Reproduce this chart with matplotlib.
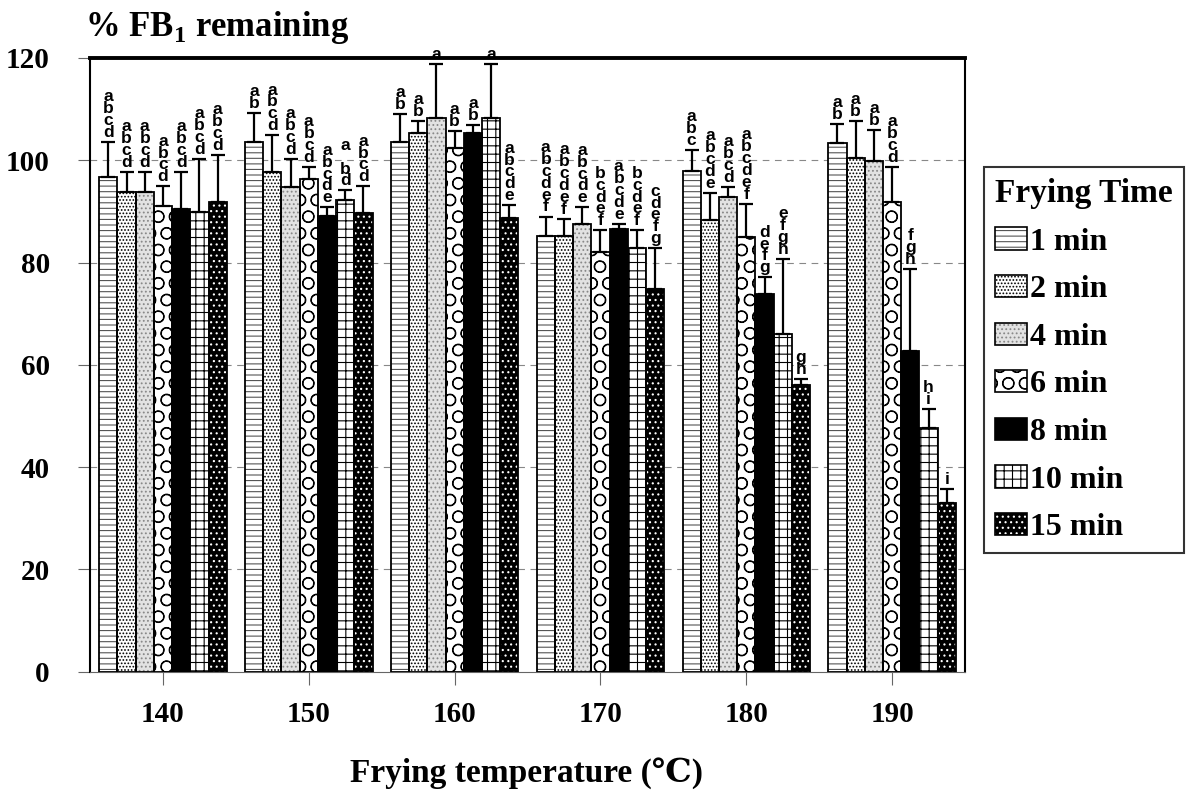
import matplotlib
matplotlib.use("Agg")
import matplotlib.pyplot as plt
from matplotlib.patches import Patch
import numpy as np

plt.rcParams['font.family'] = ['Liberation Serif', 'DejaVu Serif']
plt.rcParams['font.weight'] = 'bold'
plt.rcParams['mathtext.fontset'] = 'custom'
plt.rcParams['mathtext.rm'] = 'Liberation Serif:bold'
plt.rcParams['mathtext.bf'] = 'Liberation Serif:bold'
plt.rcParams['hatch.linewidth'] = 0.8

# data
temps = ['140', '150', '160', '170', '180', '190']
times = ['1 min', '2 min', '4 min', '6 min', '8 min', '10 min', '15 min']

# rows = temperature, cols = frying time
means = [
    [96.8, 93.8, 93.8, 91.0, 90.4, 89.8, 91.9],
    [103.5, 97.8, 94.7, 96.4, 89.1, 92.3, 89.6],
    [103.5, 105.4, 108.2, 102.4, 105.4, 108.2, 88.7],
    [85.1, 85.1, 87.5, 82.0, 86.5, 82.8, 74.8],
    [98.0, 88.4, 92.8, 85.0, 73.9, 66.1, 56.1],
    [103.3, 100.5, 99.8, 91.8, 62.7, 47.6, 32.9],
]
errs = [
    [6.8, 3.9, 3.9, 3.9, 7.3, 10.5, 9.1],
    [5.7, 7.1, 5.6, 2.3, 1.7, 1.8, 5.3],
    [5.5, 2.2, 10.6, 3.3, 1.5, 10.6, 2.5],
    [3.9, 3.5, 3.3, 4.3, 1.1, 3.5, 8.0],
    [4.0, 5.2, 2.0, 6.5, 3.2, 14.6, 1.1],
    [3.8, 7.2, 6.2, 6.9, 16.0, 3.7, 2.8],
]
letters = [
    ['abcd', 'abcd', 'abcd', 'abcd', 'abcd', 'abcd', 'abcd'],
    ['ab', 'abcd', 'abcd', 'abcd', 'abcde', 'a bd', 'abcd'],
    ['ab', 'ab', 'a', 'ab', 'ab', 'a', 'abcde'],
    ['abcdef', 'abcdef', 'abcde', 'bcdef', 'abcde', 'bcdef', 'cdefg'],
    ['abc', 'abcde', 'abcd', 'abcdef', 'defg', 'efgh', 'gh'],
    ['ab', 'ab', 'ab', 'abcd', 'fgh', 'hi', 'i'],
]

# (face, hatch colour, hatch)
styles = [
    ('white', '#555555', '---'),
    ('white', 'black', '.....'),
    ('#e2e2e2', '#888888', '....'),
    ('white', 'black', 'O'),
    ('black', 'black', ''),
    ('white', 'black', '++'),
    ('black', 'white', '...'),
]

means = np.array(means)
errs = np.array(errs)

fig = plt.figure(figsize=(11.96, 7.9), dpi=100)
ax = fig.add_axes([0.0753, 0.1497, 0.7316, 0.7769])

w = 0.125
x = np.arange(len(temps))
for j in range(len(times)):
    face, hc, hatch = styles[j]
    xs = x + (j - 3) * w
    ax.bar(xs, means[:, j], w, color=face, edgecolor=hc, hatch=hatch, linewidth=0, zorder=2)
    ax.bar(xs, means[:, j], w, fill=False, edgecolor='black', linewidth=1.3, zorder=3)
    ax.errorbar(xs, means[:, j], yerr=[np.zeros(len(temps)), errs[:, j]], fmt='none',
                ecolor='black', elinewidth=1.6, capsize=5, capthick=1.6, zorder=4)
    for i in range(len(temps)):
        if letters[i][j] == 'a bd':
            lab = 'a\n\nb\nd'
        else:
            lab = '\n'.join(letters[i][j])
        ax.text(xs[i], means[i, j] + errs[i, j] + 0.4, lab, ha='center', va='bottom',
                fontsize=12.5, fontweight='bold', family=['Liberation Sans', 'DejaVu Sans'],
                linespacing=0.74, zorder=5)

ax.set_xlim(-0.5, 5.5)
ax.set_ylim(0, 120)
ax.set_yticks(range(0, 121, 20))
ax.set_xticks(x)
ax.set_xticklabels(temps)
ax.tick_params(axis='both', labelsize=21, length=9, width=0.8, color='#666666', pad=12)
ax.tick_params(axis='y', pad=20)
for t in ax.get_xticklabels() + ax.get_yticklabels():
    t.set_fontweight('bold')

for yv in range(20, 101, 20):
    ax.axhline(yv, color='#888888', lw=0.8, ls=(0, (6, 5)), zorder=1)

ax.spines['top'].set_linewidth(2.8)
ax.spines['left'].set_linewidth(1.5)
ax.spines['right'].set_linewidth(1.5)
ax.spines['bottom'].set_linewidth(0.8)
ax.spines['bottom'].set_color('#666666')

fig.text(85 / 1196, 1 - 36 / 790, '% FB$_{1}$ remaining', fontsize=25,
         fontweight='bold', ha='left', va='baseline')
fig.text(527 / 1196, 1 - 782 / 790, 'Frying temperature (\u2103)', fontsize=24,
         fontweight='bold', ha='center', va='baseline')

handles = []
for face, hc, hatch in styles:
    handles.append((Patch(facecolor=face, edgecolor=hc, hatch=hatch, linewidth=0),
                    Patch(fill=False, edgecolor='black', linewidth=1.2)))
leg = fig.legend(handles, times, loc='upper left', bbox_to_anchor=(984 / 1196, 1 - 167 / 790),
                 fontsize=23, title='Frying Time', title_fontsize=24, frameon=True,
                 fancybox=False, edgecolor='black', handlelength=1.0, handleheight=0.7,
                 handletextpad=0.1, labelspacing=0.57, borderpad=0.35, borderaxespad=0,
                 alignment='left')
leg.get_frame().set_linewidth(1.5)
leg.get_title().set_fontweight('bold')
for t in leg.get_texts():
    t.set_fontweight('bold')

fig.savefig('out.png', dpi=100)
